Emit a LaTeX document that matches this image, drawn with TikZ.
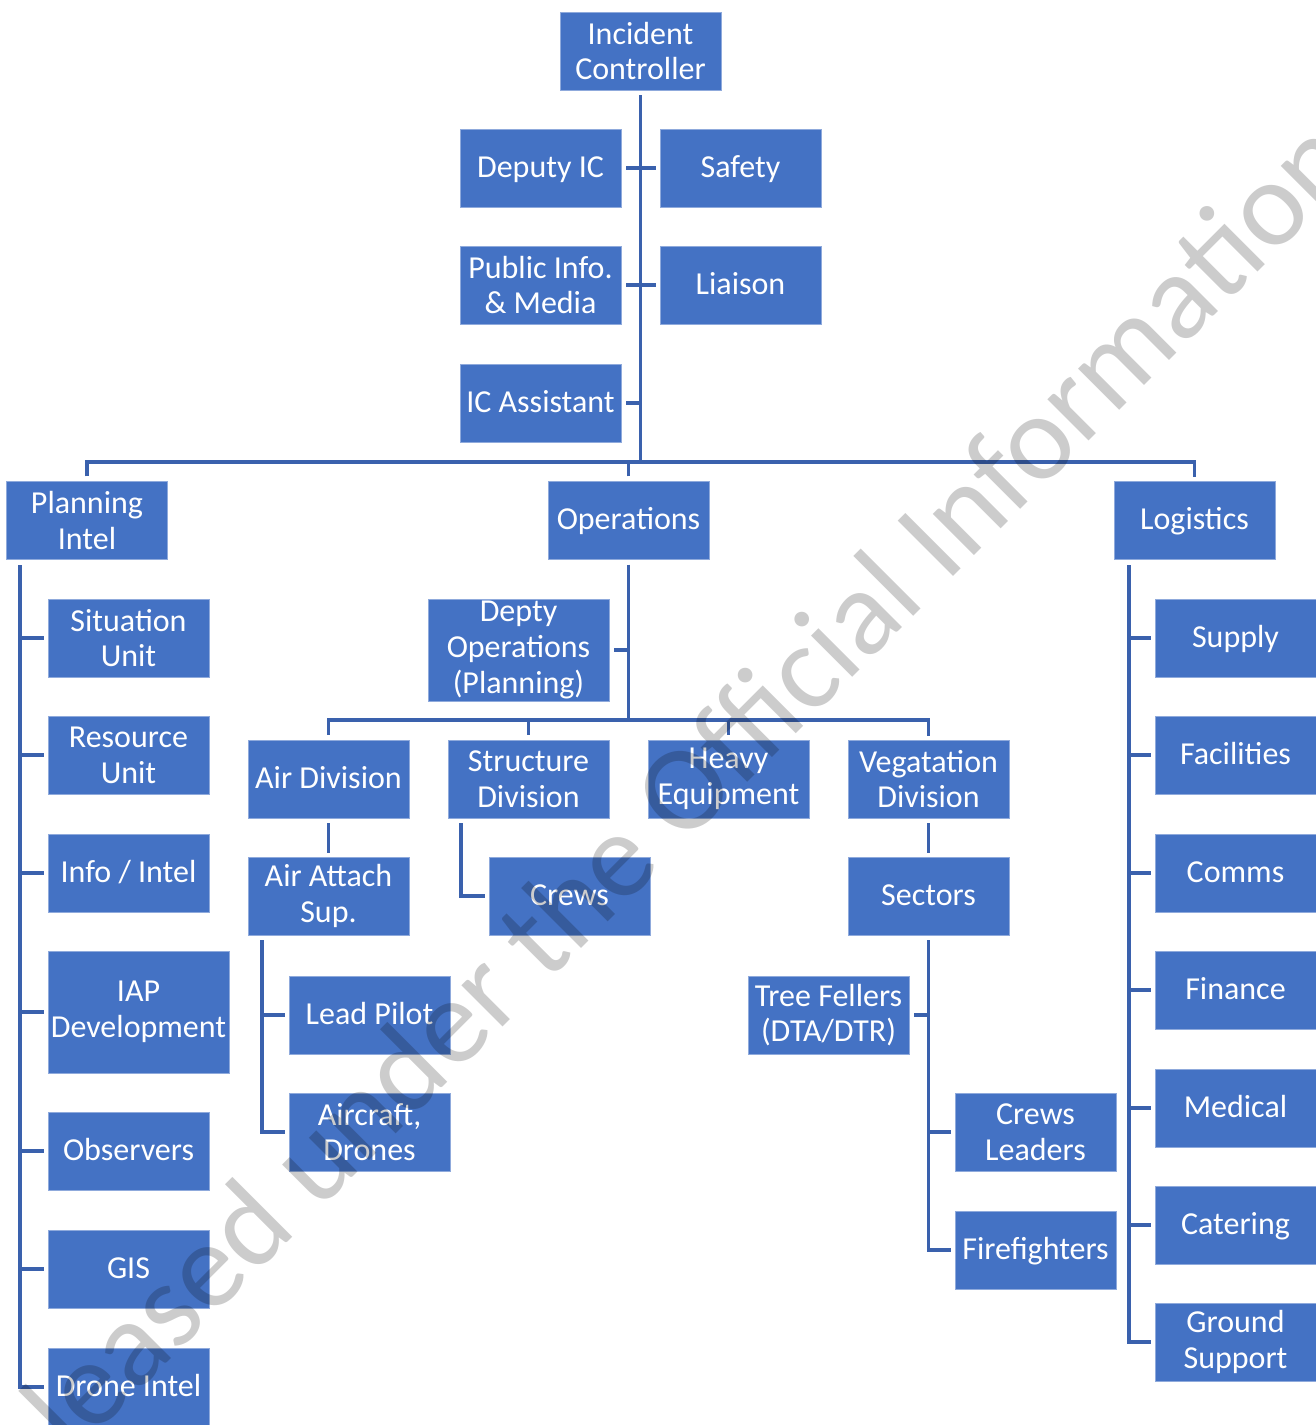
\documentclass[tikz,border=0pt]{standalone}
\usepackage{fontspec}
\setmainfont{Carlito}
\usepackage{tikz}

\begin{document}
\begin{tikzpicture}[x=0.75pt,y=0.75pt,yscale=-1,xscale=1,
    box/.style={fill={rgb,255:red,68;green,114;blue,196},draw={rgb,255:red,143;green,170;blue,220},line width=0.75pt,text=white,minimum width=120.75pt,minimum height=58.5pt,inner sep=0pt,align=center,font=\fontsize{24}{26.8}\selectfont},
    widebox/.style={box,minimum width=135.75pt},
    oneline/.style={text height=16pt,text depth=2.5pt},
    link/.style={draw={rgb,255:red,58;green,97;blue,173},line width=2.8pt},
    gapstart/.style={shorten <=3.5pt},
    gapend/.style={shorten >=3pt}]
        \useasboundingbox (0,0) rectangle (1316,1425);

        \node[box] (ic) at (640.5,51) {Incident\\Controller};
        \node[box,oneline] (dic) at (540.5,168) {Deputy IC};
        \node[box,oneline] (safety) at (740.5,168) {Safety};
        \node[box] (media) at (540.5,285) {Public Info.\\\& Media};
        \node[box,oneline] (liaison) at (740.5,285) {Liaison};
        \node[box,oneline] (icass) at (540.5,403) {IC Assistant};
        \coordinate (bus) at (640.5,462);
        \node[box] (plan) at (87,520.5) {Planning\\Intel};
        \node[box,oneline] (ops) at (628.5,520.5) {Operations};
        \node[box,oneline] (logi) at (1194.5,520.5) {Logistics};

        \node[box] (sit) at (128.5,638) {Situation\\Unit};
        \node[box] (res) at (128.5,755) {Resource\\Unit};
        \node[box,oneline] (info) at (128.5,873) {Info / Intel};
        \node[widebox,minimum height=91.5pt] (iap) at (138.5,1012) {IAP\\Development};
        \node[box,oneline] (obs) at (128.5,1151) {Observers};
        \node[box,oneline] (gis) at (128.5,1269) {GIS};
        \node[box,oneline] (drone) at (128.5,1387) {Drone Intel};

        \node[widebox,minimum height=76.5pt] (dops) at (518.5,650) {Depty\\Operations\\(Planning)};
        \coordinate (opsbus) at (628.5,720);
        \node[box,oneline] (airdiv) at (328.5,779) {Air Division};
        \node[box] (struct) at (528.5,779) {Structure\\Division};
        \node[box] (heavy) at (728.5,779) {Heavy\\Equipment};
        \node[box] (veg) at (928.5,779) {Vegatation\\Division};
        \node[box] (airatt) at (328.5,896) {Air Attach\\Sup.};
        \node[box,oneline] (crews) at (569.5,896) {Crews};
        \node[box,oneline] (sectors) at (928.5,896) {Sectors};
        \node[box,oneline] (lead) at (369.5,1015) {Lead Pilot};
        \node[box] (aircraft) at (369.5,1132) {Aircraft,\\Drones};
        \node[box] (trees) at (828.5,1015) {Tree Fellers\\(DTA/DTR)};
        \node[box] (crewlead) at (1035.5,1132) {Crews\\Leaders};
        \node[box,oneline] (fire) at (1035.5,1250) {Firefighters};

        \node[box,oneline] (supply) at (1235.5,638) {Supply};
        \node[box,oneline] (fac) at (1235.5,755) {Facilities};
        \node[box,oneline] (comms) at (1235.5,873) {Comms};
        \node[box,oneline] (fin) at (1235.5,990) {Finance};
        \node[box,oneline] (med) at (1235.5,1108) {Medical};
        \node[box,oneline] (cat) at (1235.5,1225) {Catering};
        \node[box] (ground) at (1235.5,1342) {Ground\\Support};

        \draw[link,gapstart] (ic.south) -- (bus);
        \draw[link,gapstart,gapend] (dic) -- (safety);
        \draw[link,gapstart,gapend] (media) -- (liaison);
        \draw[link,gapstart] (icass.east) -- (icass.east -| bus);
        \draw[link,gapstart,gapend] (plan.north) |- (bus) -| (logi.north);
        \draw[link,gapstart] (ops.north) -- (ops.north |- bus);

        \coordinate (plansp) at (20,565);
        \draw[link,gapend] (plansp) |- (drone.west);
        \draw[link,gapend] (sit.west -| plansp) -- (sit.west);
        \draw[link,gapend] (res.west -| plansp) -- (res.west);
        \draw[link,gapend] (info.west -| plansp) -- (info.west);
        \draw[link,gapend] (iap.west -| plansp) -- (iap.west);
        \draw[link,gapend] (obs.west -| plansp) -- (obs.west);
        \draw[link,gapend] (gis.west -| plansp) -- (gis.west);

        \draw[link,gapstart] (ops.south) -- (opsbus);
        \draw[link,gapstart] (dops.east) -- (dops.east -| opsbus);
        \draw[link,gapstart,gapend] (airdiv.north) |- (opsbus) -| (veg.north);
        \draw[link,gapstart] (struct.north) -- (struct.north |- opsbus);
        \draw[link,gapstart] (heavy.north) -- (heavy.north |- opsbus);
        \draw[link,gapstart,gapend] (airdiv) -- (airatt);
        \draw[link,gapstart,gapend] (veg) -- (sectors);
        \coordinate (structsp) at (461,823);
        \draw[link,gapend] (structsp) |- (crews.west);
        \coordinate (airsp) at (262,940);
        \draw[link,gapend] (airsp) |- (aircraft.west);
        \draw[link,gapend] (lead.west -| airsp) -- (lead.west);
        \draw[link,gapstart,gapend] (sectors.south) |- (fire.west);
        \draw[link,gapstart] (trees.east) -- (trees.east -| sectors.south);
        \draw[link,gapend] (crewlead.west -| sectors.south) -- (crewlead.west);

        \coordinate (logisp) at (1129,565);
        \draw[link,gapend] (logisp) |- (ground.west);
        \draw[link,gapend] (supply.west -| logisp) -- (supply.west);
        \draw[link,gapend] (fac.west -| logisp) -- (fac.west);
        \draw[link,gapend] (comms.west -| logisp) -- (comms.west);
        \draw[link,gapend] (fin.west -| logisp) -- (fin.west);
        \draw[link,gapend] (med.west -| logisp) -- (med.west);
        \draw[link,gapend] (cat.west -| logisp) -- (cat.west);

        \begin{scope}
        \clip (0,0) rectangle (1316,1425);
        \node[rotate=45,anchor=base west,inner sep=0pt,text=black,text opacity=0.2,font=\fontsize{91.5}{91.5}\selectfont] (mark) at (72.5,1457.5) {leased under the Official Information};
        \end{scope}

    \end{tikzpicture}
\end{document}
